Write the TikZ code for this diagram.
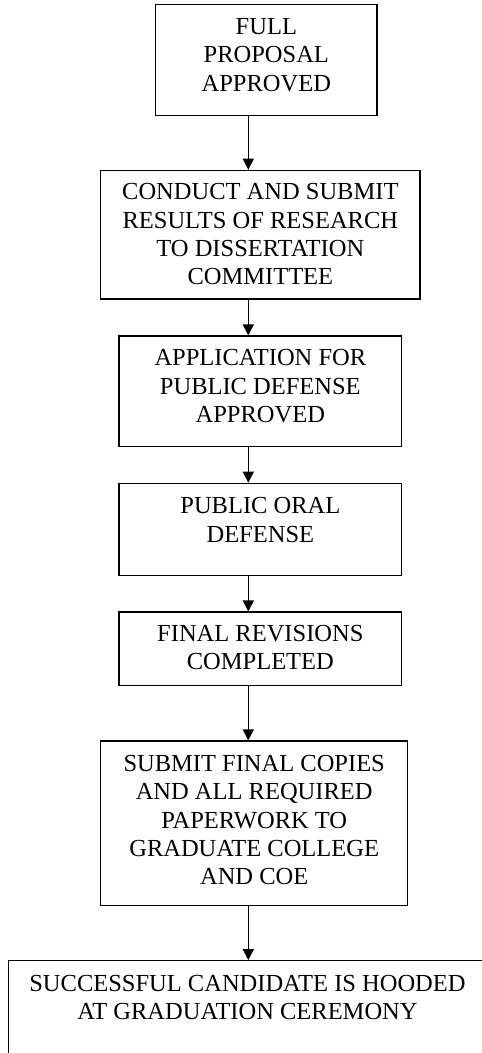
\documentclass[tikz,border=0pt]{standalone}
\usepackage{fontspec}
\setmainfont{Liberation Serif}
\usetikzlibrary{arrows.meta}
\begin{document}
\begin{tikzpicture}[x=1pt,y=-1pt,
  stepbox/.style={draw=black, line width=1.2pt, inner sep=0pt, rectangle},
  txt/.style={anchor=north, inner sep=0pt, align=center, font=\fontsize{24.5}{28.2}\selectfont},
  conn/.style={draw=black, line width=1.5pt, -{Triangle[width=11pt,length=11pt]}}]
\useasboundingbox (0,0) rectangle (482,1053);
\clip (0,0) rectangle (482,1053);
% boxes
\node[stepbox, minimum width=221.3pt, minimum height=110.6pt] (b1) at (266.35,60) {};
\node[stepbox, minimum width=319.3pt, minimum height=128.7pt] (b2) at (260.35,234.65) {};
\node[stepbox, minimum width=282.7pt, minimum height=110.3pt] (b3) at (260.35,391.15) {};
\node[stepbox, minimum width=282.7pt, minimum height=92pt] (b4) at (260.35,529.3) {};
\node[stepbox, minimum width=282.7pt, minimum height=73.7pt] (b5) at (260.35,648.85) {};
\node[stepbox, minimum width=307pt, minimum height=164.7pt] (b6) at (254.2,823.35) {};
\node[stepbox, minimum width=478.4pt, minimum height=104.3pt] (b7) at (247.5,1012.85) {};
% texts
\node[txt] (t1) at (266.35,18.5) {FULL\\PROPOSAL\\APPROVED};
\node[txt] (t2) at (260.35,183.5) {CONDUCT AND SUBMIT\\RESULTS OF RESEARCH\\TO DISSERTATION\\COMMITTEE};
\node[txt] (t3) at (260.35,349.5) {APPLICATION FOR\\PUBLIC DEFENSE\\APPROVED};
\node[txt] (t4) at (260.35,497.5) {PUBLIC ORAL\\DEFENSE};
\node[txt] (t5) at (260.35,625.2) {FINAL REVISIONS\\COMPLETED};
\node[txt] (t6) at (254.2,755.2) {SUBMIT FINAL COPIES\\AND ALL REQUIRED\\PAPERWORK TO\\GRADUATE COLLEGE\\AND COE};
\node[txt] (t7) at (247.5,975.2) {SUCCESSFUL CANDIDATE IS HOODED\\AT GRADUATION CEREMONY};
% connectors
\coordinate (ax) at (248.3,0);
\draw[conn] (b1.south -| ax) -- (b2.north -| ax);
\draw[conn] (b2.south -| ax) -- (b3.north -| ax);
\draw[conn] (b3.south -| ax) -- (b4.north -| ax);
\draw[conn] (b4.south -| ax) -- (b5.north -| ax);
\draw[conn] (b5.south -| ax) -- (b6.north -| ax);
\draw[conn] (b6.south -| ax) -- (b7.north -| ax);
\end{tikzpicture}
\end{document}
